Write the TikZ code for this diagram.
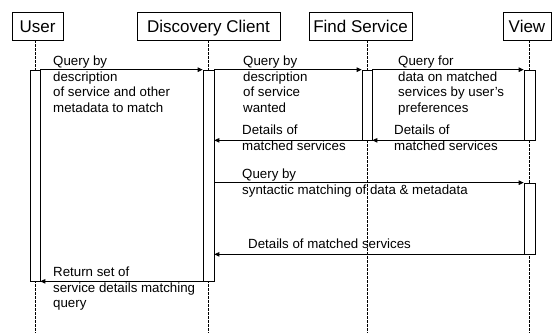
\documentclass[tikz,border=0pt]{standalone}
\usepackage{fontspec}
\setmainfont{Liberation Sans}
\usetikzlibrary{arrows.meta}

\tikzset{
  head/.style={draw, line width=0.7pt, minimum height=28pt, inner sep=0pt,
    text height=12.3pt, text depth=0pt, font=\fontsize{17}{20}\selectfont},
  act/.style={draw, fill=white, line width=0.7pt, inner sep=0pt},
  life/.style={line width=0.8pt, dash pattern=on 2.5pt off 1.5pt},
  msg/.style={line width=0.9pt, -{Triangle[length=5pt,width=4.5pt]}},
  lbl/.style={anchor=north west, inner sep=0pt, align=left,
    font=\fontsize{13.3}{15.5}\selectfont},
}

\begin{document}
\begin{tikzpicture}[x=1pt,y=1pt,yscale=-1,xscale=1]
    \useasboundingbox (0,0) rectangle (553,333);

    % objects
    \node [head, minimum width=51pt]  (user)   at (37.5,26)  {User};
    \node [head, minimum width=143pt] (client) at (208.5,26) {Discovery Client};
    \node [head, minimum width=103pt] (find)   at (360.5,26) {Find Service};
    \node [head, minimum width=48pt]  (view)   at (527,26)   {View};

    % lifelines
    \foreach \n/\x in {user/35,client/208.5,find/367,view/529.5}{
        \coordinate (\n-end) at (\x,333);
        \draw [life] (\n-end |- \n.south) -- (\n-end);
    }

    % activations
    \node [act, minimum width=10pt, minimum height=211pt] (uact)  at (35,175.5)    {};
    \node [act, minimum width=11pt, minimum height=211pt] (cact)  at (208.5,175.5) {};
    \node [act, minimum width=10pt, minimum height=70pt]  (fact)  at (367,105)     {};
    \node [act, minimum width=11pt, minimum height=70pt]  (vact)  at (529.5,105)   {};
    \node [act, minimum width=11pt, minimum height=71pt]  (vact2) at (529.5,218.5) {};

    % messages
    \draw [msg] (uact.north east) -- (cact.north west);
    \draw [msg] (cact.north east) -- (fact.north west);
    \draw [msg] (fact.north east) -- (vact.north west);
    \draw [msg] (fact.south west) -- (cact.east |- fact.south);
    \draw [msg] (vact.south west) -- (fact.south east);
    \draw [msg] (cact.east |- vact2.north) -- (vact2.north west);
    \draw [msg] (vact2.south west) -- (cact.east |- vact2.south);
    \draw [msg] (cact.south west) -- (uact.south east);

    % message texts
    \node [lbl] (q1) at (53,56)   {Query by\\description\\of service and other\\metadata to match};
    \node [lbl] (q2) at (243,56)  {Query by\\description\\of service\\wanted};
    \node [lbl] (q3) at (398,56)  {Query for\\data on matched\\services by user's\\preferences};
    \node [lbl] (d1) at (242,125) {Details of\\matched services};
    \node [lbl] (d2) at (394,125) {Details of\\matched services};
    \node [lbl] (q4) at (242,169) {Query by\\syntactic matching of data \& metadata};
    \node [lbl] (d3) at (248,239) {Details of matched services};
    \node [lbl] (r1) at (53,267)  {Return set of\\service details matching\\query};
\end{tikzpicture}
\end{document}
